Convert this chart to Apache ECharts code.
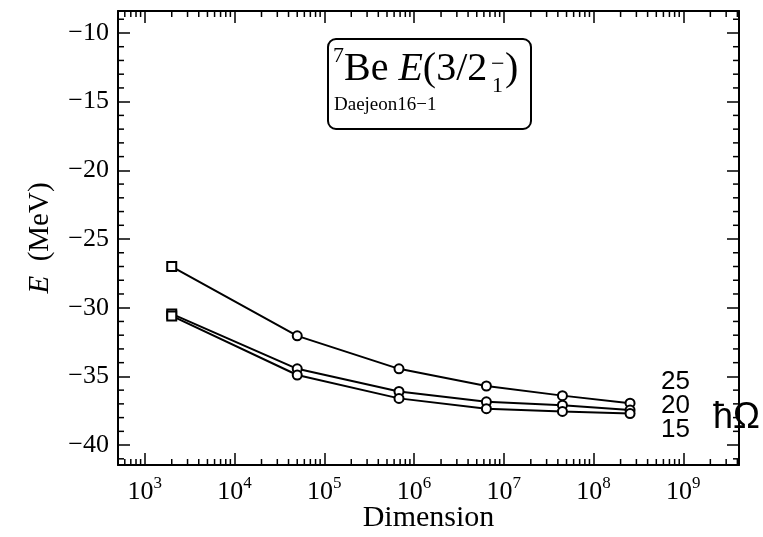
<!DOCTYPE html>
<html>
<head>
<meta charset="utf-8">
<script src="https://cdn.jsdelivr.net/npm/echarts@6/dist/echarts.min.js"></script>
<style>
  html, body { margin: 0; padding: 0; background: #fff; }
  #chart { width: 763px; height: 537px; }
</style>
</head>
<body>
<div id="chart"></div>
<script>
// Basis dimension of each model space
const dimension = [2.0e3, 5.0e4, 6.8e5, 6.4e6, 4.5e7, 2.55e8];
// Oscillator energies (MeV), top curve to bottom curve
const hwLabels = ['25', '20', '15'];
// 3/2- state energies (MeV) for each oscillator energy
const energyHw25 = [-27.0, -32.05, -34.45, -35.7, -36.4, -36.95];
const energyHw20 = [-30.45, -34.45, -36.1, -36.85, -37.1, -37.45];
const energyHw15 = [-30.6, -34.9, -36.6, -37.35, -37.55, -37.7];
// Axis tick labels
const yTickValues = [-10, -15, -20, -25, -30, -35, -40];
const xTickExponents = [3, 4, 5, 6, 7, 8, 9];

const X_MIN = 504, X_MAX = 4.17e9;
const Y_MIN = -41.45, Y_MAX = -8.4;
const SERIF = '"Liberation Serif", "Times New Roman", serif';
const SANS = '"Liberation Sans", Arial, sans-serif';
const MAJOR_LEN = 12, MINOR_LEN = 6;

// Minor tick positions: 2..9 x 10^k on the log axis, whole units on the energy axis
const xMinor = [];
for (let e = 2; e <= 9; e++) {
  for (let k = 2; k <= 9; k++) {
    const v = k * Math.pow(10, e);
    if (v > X_MIN && v < X_MAX) xMinor.push(v);
  }
}
const yMinor = [];
for (let v = Math.ceil(Y_MIN); v <= Math.floor(Y_MAX); v++) {
  if (v % 5 !== 0) yMinor.push(v);
}

const chart = echarts.init(document.getElementById('chart'), null, { renderer: 'canvas' });

function minorTicks(values, dir) {
  return {
    type: 'custom',
    silent: true,
    z: 1,
    clip: false,
    xAxisIndex: 0,
    yAxisIndex: 0,
    data: values.map(v => dir === 'x' ? [v, Y_MIN] : [X_MIN, v]),
    renderItem(params, api) {
      const style = { stroke: '#000', lineWidth: 1.5 };
      if (dir === 'x') {
        const v = api.value(0);
        const b = api.coord([v, Y_MIN]);
        const t = api.coord([v, Y_MAX]);
        return { type: 'group', children: [
          { type: 'line', shape: { x1: b[0], y1: b[1], x2: b[0], y2: b[1] - MINOR_LEN }, style },
          { type: 'line', shape: { x1: t[0], y1: t[1], x2: t[0], y2: t[1] + MINOR_LEN }, style }
        ] };
      }
      const v = api.value(1);
      const l = api.coord([X_MIN, v]);
      const r = api.coord([X_MAX, v]);
      return { type: 'group', children: [
        { type: 'line', shape: { x1: l[0], y1: l[1], x2: l[0] + MINOR_LEN, y2: l[1] }, style },
        { type: 'line', shape: { x1: r[0], y1: r[1], x2: r[0] - MINOR_LEN, y2: r[1] }, style }
      ] };
    }
  };
}

function curve(name, values) {
  return {
    name: name,
    type: 'line',
    data: dimension.map((d, i) => [d, values[i]]),
    symbol: (val, params) => params.dataIndex === 0 ? 'rect' : 'circle',
    symbolSize: 9,
    showSymbol: true,
    z: 3,
    lineStyle: { color: '#000', width: 2 },
    itemStyle: { color: '#fff', borderColor: '#000', borderWidth: 2 }
  };
}

const axisLine = { show: true, onZero: false, lineStyle: { color: '#000', width: 2 } };
const majorTick = { show: true, inside: true, length: MAJOR_LEN, lineStyle: { color: '#000', width: 1.5 } };

const option = {
  animation: false,
  backgroundColor: '#fff',
  grid: { left: 118, top: 11, width: 621, height: 454, containLabel: false, outerBoundsMode: 'none' },
  xAxis: [
    {
      type: 'log', logBase: 10, min: X_MIN, max: X_MAX, position: 'bottom',
      axisLine, axisTick: majorTick, splitLine: { show: false }, minorTick: { show: false },
      axisLabel: {
        margin: 10,
        formatter: v => {
          const e = Math.round(Math.log10(v));
          if (Math.abs(Math.log10(v) - e) > 1e-6 || !xTickExponents.includes(e)) return '';
          return '{b|10}{s|' + e + '}';
        },
        rich: {
          b: { fontFamily: SERIF, fontSize: 26, color: '#000', lineHeight: 30, verticalAlign: 'bottom' },
          s: { fontFamily: SERIF, fontSize: 17, color: '#000', verticalAlign: 'top', lineHeight: 16 }
        }
      },
      name: 'Dimension', nameLocation: 'middle', nameGap: 53, nameMoveOverlap: false,
      nameTextStyle: { fontFamily: SERIF, fontSize: 30, color: '#000', verticalAlign: 'middle' }
    },
    {
      type: 'log', logBase: 10, min: X_MIN, max: X_MAX, position: 'top',
      axisLine, axisTick: majorTick, axisLabel: { show: false }, splitLine: { show: false }
    }
  ],
  yAxis: [
    {
      type: 'value', min: Y_MIN, max: Y_MAX, position: 'left',
      axisLine, axisTick: majorTick, splitLine: { show: false },
      axisLabel: {
        margin: 9, fontFamily: SERIF, fontSize: 26, color: '#000',
        formatter: v => yTickValues.some(t => Math.abs(t - v) < 1e-9) ? '\u2212' + Math.abs(v) : ''
      },
      name: '{i|E}  (MeV)', nameLocation: 'middle', nameGap: 63,
      nameTextStyle: {
        fontFamily: SERIF, fontSize: 29, color: '#000',
        rich: { i: { fontFamily: SERIF, fontSize: 29, fontStyle: 'italic', color: '#000' } }
      }
    },
    {
      type: 'value', min: Y_MIN, max: Y_MAX, position: 'right',
      axisLine, axisTick: majorTick, axisLabel: { show: false }, splitLine: { show: false }
    }
  ],
  series: [
    minorTicks(xMinor, 'x'),
    minorTicks(yMinor, 'y'),
    curve(hwLabels[0], energyHw25),
    curve(hwLabels[1], energyHw20),
    curve(hwLabels[2], energyHw15)
  ],
  graphic: [
    {
      type: 'rect', left: 327, top: 38, z: 10,
      shape: { width: 203, height: 90, r: 8 },
      style: { fill: '#fff', stroke: '#000', lineWidth: 2 }
    },
    { type: 'text', left: 333, top: 45, z: 11, style: { text: '7', font: '22px ' + SERIF, fill: '#000' } },
    {
      type: 'text', left: 344, top: 49, z: 11,
      style: {
        text: 'Be {i|E}(3/2', font: '40px ' + SERIF, fill: '#000',
        rich: { i: { fontFamily: SERIF, fontSize: 40, fontStyle: 'italic', fill: '#000' } }
      }
    },
    { type: 'text', left: 491, top: 53, z: 11, style: { text: '\u2212', font: '24px ' + SERIF, fill: '#000' } },
    { type: 'text', left: 492, top: 75, z: 11, style: { text: '1', font: '22px ' + SERIF, fill: '#000' } },
    { type: 'text', left: 505, top: 49, z: 11, style: { text: ')', font: '40px ' + SERIF, fill: '#000' } },
    { type: 'text', left: 334, top: 96, z: 11, style: { text: 'Daejeon16\u22121', font: '19px ' + SERIF, fill: '#000' } },
    { type: 'text', left: 661, top: 369, z: 11, style: { text: hwLabels[0], font: '26px ' + SANS, fill: '#000' } },
    { type: 'text', left: 661, top: 393, z: 11, style: { text: hwLabels[1], font: '26px ' + SANS, fill: '#000' } },
    { type: 'text', left: 661, top: 417, z: 11, style: { text: hwLabels[2], font: '26px ' + SANS, fill: '#000' } },
    { type: 'text', left: 713, top: 400, z: 11, style: { text: '\u0127\u03A9', font: '36px ' + SANS, fill: '#000' } }
  ]
};

chart.setOption(option);
</script>
</body>
</html>
